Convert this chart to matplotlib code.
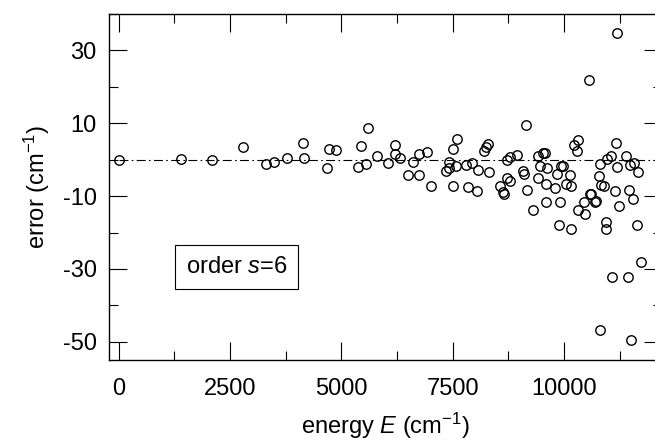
import matplotlib
matplotlib.use('Agg')
import matplotlib.pyplot as plt
from matplotlib.ticker import MultipleLocator

# ------------- DATA ------------- #

energy = [0, 1406, 2085, 2787, 3303, 3491, 3789, 4148, 4155, 4686, 4724, 4873,
          5374, 5448, 5553, 5590, 5800, 6039, 6196, 6196, 6308, 6496, 6607, 6733,
          6749, 6921, 7011, 7354, 7406, 7422, 7496, 7511, 7578, 7586, 7803, 7841,
          7930, 8042, 8078, 8213, 8251, 8289, 8318, 8565, 8630, 8650, 8729, 8729,
          8789, 8797, 8939, 9088, 9103, 9155, 9170, 9305, 9410, 9410, 9462, 9536,
          9574, 9596, 9596, 9612, 9798, 9835, 9880, 9910, 9933, 9985, 10038, 10135,
          10157, 10164, 10231, 10285, 10314, 10314, 10448, 10471, 10561, 10583, 10598,
          10687, 10717, 10792, 10807, 10814, 10830, 10904, 10934, 10942, 10957, 11047,
          11076, 11150, 11159, 11181, 11188, 11226, 11397, 11428, 11450, 11473, 11509,
          11554, 11576, 11643, 11652, 11726]
error = [0.0, 0.1, 0.0, 3.4, -1.2, -0.7, 0.4, 4.6, 0.6, -2.4, 3.0, 2.6,
         -2.0, 3.7, -1.2, 8.7, 0.9, -1.0, 4.1, 1.5, 0.5, -4.1, -0.5, 1.5,
         -4.3, 2.0, -7.2, -3.2, -0.5, -2.2, -7.2, 3.0, -1.7, 5.7, -1.4, -7.5,
         -0.8, -8.7, -2.8, 2.4, 3.4, 4.2, -3.5, -7.2, -8.9, -9.4, -0.2, -4.9,
         0.8, -5.8, 1.4, -3.2, -4.0, 9.5, -8.3, -13.7, 1.0, -4.9, -1.7, 1.8,
         1.8, -6.6, -11.6, -2.2, -7.8, -3.8, -18.0, -11.5, -1.7, -1.7, -6.6, -4.3,
         -7.2, -19.0, 4.0, 2.3, 5.3, -13.7, -11.7, -14.9, 21.8, -9.5, -9.5,
         -11.6, -11.4, -4.5, -1.3, -46.7, -7.0, -7.3, -17.2, -19.0, 0.1, 1.0,
         -32.2, -8.5, 4.5, -2.0, 34.7, -12.8, 1.0, -32.1, -8.3, -1.4, -49.4,
         -10.9, -0.8, -18.0, -3.5, -28.2]

x_ticks = [0, 2500, 5000, 7500, 10000]
y_ticks = [30, 10, -10, -30, -50]

# ------------- STYLE ------------- #

plt.rcParams['font.family'] = ['Liberation Sans', 'DejaVu Sans']
plt.rcParams['mathtext.fontset'] = 'custom'
plt.rcParams['mathtext.rm'] = 'Liberation Sans'
plt.rcParams['mathtext.it'] = 'Liberation Sans:italic'
plt.rcParams['axes.unicode_minus'] = False

fig = plt.figure(figsize=(6.55, 4.4), dpi=100)
ax = fig.add_axes([0.1669, 0.182, 0.8438, 0.786])

ax.plot(energy, error, 'o', markersize=6.8, markerfacecolor='none',
        markeredgecolor='black', markeredgewidth=1.0)
ax.plot([0, 12300], [0, 0], color='black', linewidth=0.8,
        dashes=[8, 3, 1.5, 3])

ax.set_xlim(-211, 12200)
ax.set_ylim(-55, 40)

ax.set_xticks(x_ticks)
ax.set_yticks(y_ticks)
ax.xaxis.set_minor_locator(MultipleLocator(1250))
ax.yaxis.set_minor_locator(MultipleLocator(10))
ax.tick_params(which='both', direction='in', top=True, right=True,
               width=0.8, labelsize=17)
ax.tick_params(which='major', length=13)
ax.tick_params(which='minor', length=6.5)
ax.tick_params(axis='y', pad=9)
ax.tick_params(axis='x', pad=13)
for s in ax.spines.values():
    s.set_linewidth(1.0)

ax.set_xlabel('energy $E$ (cm$^{-1}$)', fontsize=17, labelpad=8)
ax.set_ylabel('error (cm$^{-1}$)', fontsize=17, labelpad=8)

ax.text(2650, -29.5, 'order $s$=6', fontsize=17, ha='center', va='center',
        bbox=dict(boxstyle='square,pad=0.45', facecolor='white',
                  edgecolor='black', linewidth=0.8))

plt.savefig('out.png', dpi=100)
